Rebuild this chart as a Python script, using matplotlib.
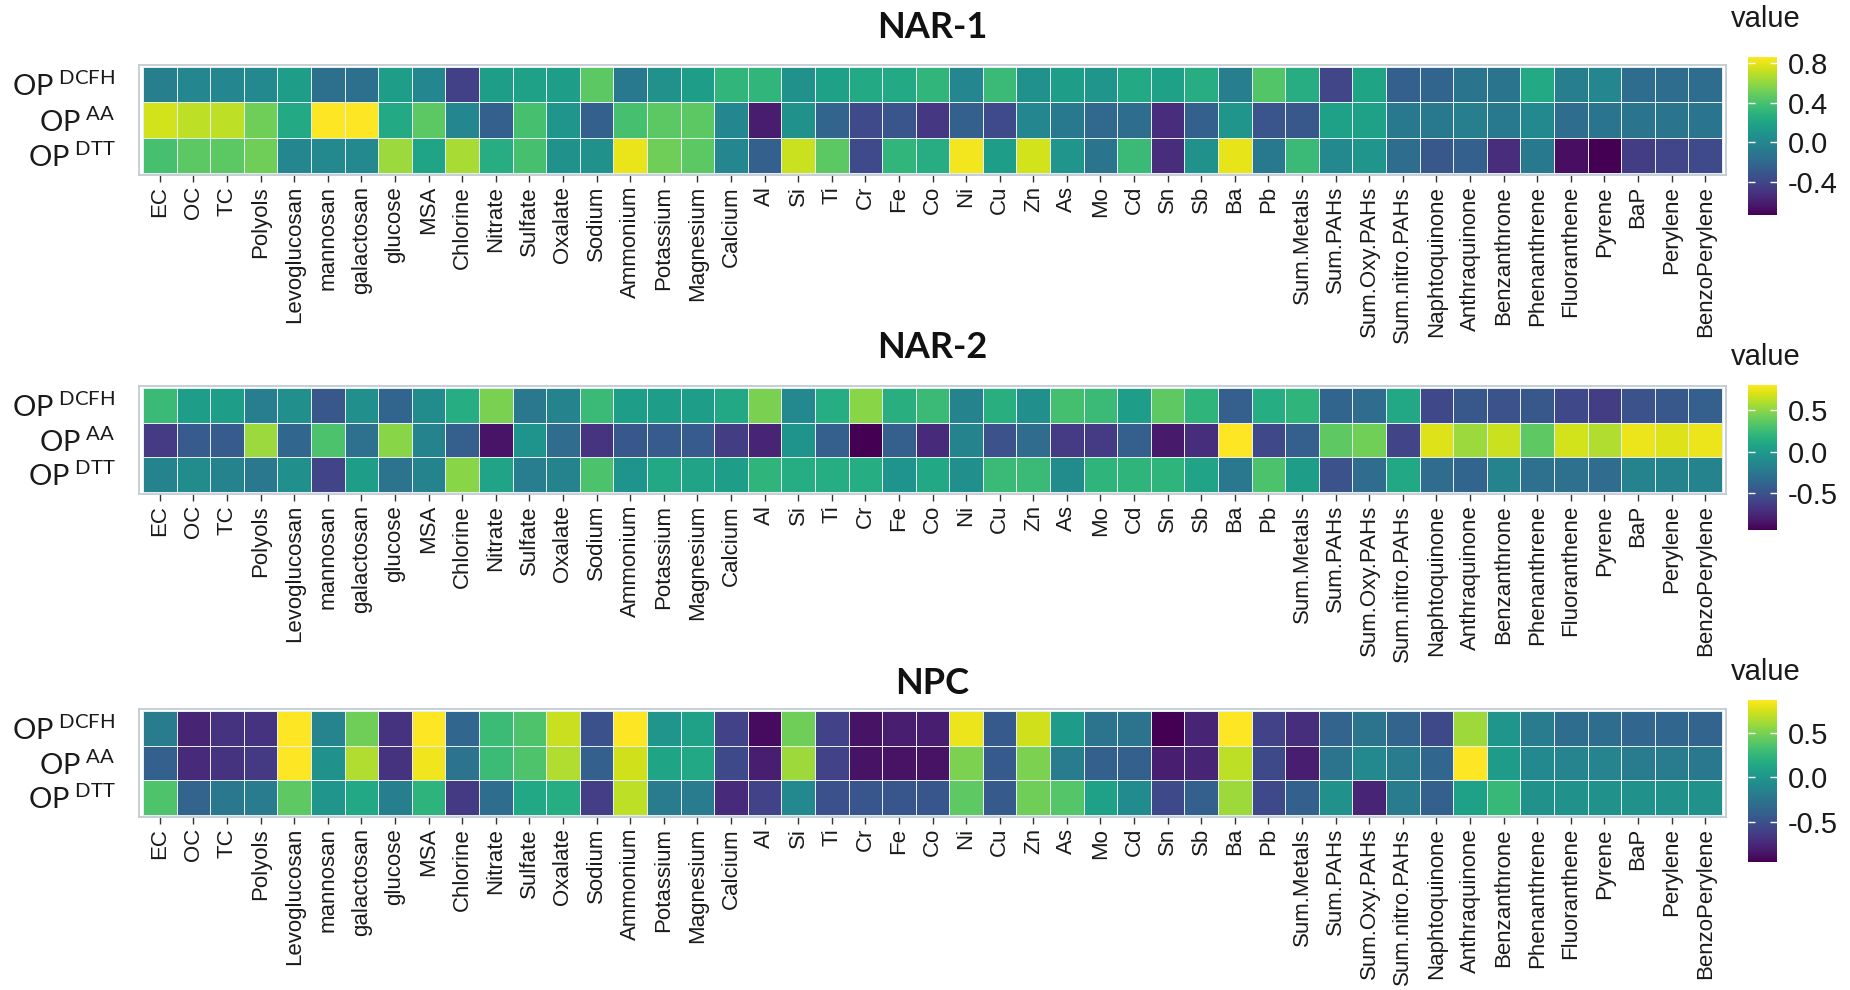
import numpy as np
import matplotlib
matplotlib.use("Agg")
import matplotlib.pyplot as plt

categories = ["EC", "OC", "TC", "Polyols", "Levoglucosan", "mannosan", "galactosan", "glucose", "MSA",
              "Chlorine", "Nitrate", "Sulfate", "Oxalate", "Sodium", "Ammonium", "Potassium", "Magnesium",
              "Calcium", "Al", "Si", "Ti", "Cr", "Fe", "Co", "Ni", "Cu", "Zn", "As", "Mo", "Cd", "Sn", "Sb",
              "Ba", "Pb", "Sum.Metals", "Sum.PAHs", "Sum.Oxy.PAHs", "Sum.nitro.PAHs", "Naphtoquinone",
              "Anthraquinone", "Benzanthrone", "Phenanthrene", "Fluoranthene", "Pyrene", "BaP", "Perylene",
              "BenzoPerylene"]
row_names = ["DCFH", "AA", "DTT"]
panel_titles = ["NAR-1", "NAR-2", "NPC"]

# ---- NAR-1 ----
nar1_dcfh = [-0.05, 0.0, 0.0, 0.02, 0.15, -0.15, -0.15, 0.15, 0.0, -0.43, 0.15, 0.18, 0.15, 0.46, -0.09,
             0.07, 0.15, 0.31, 0.31, 0.07, 0.18, 0.23, 0.23, 0.31, 0.0, 0.35, 0.07, 0.15, 0.10, 0.23, 0.18,
             0.26, -0.05, 0.43, 0.26, -0.40, 0.20, -0.25, -0.22, -0.12, -0.12, 0.23, -0.05, 0.0, -0.17,
             -0.17, -0.17]
nar1_aa = [0.75, 0.70, 0.70, 0.51, 0.23, 0.86, 0.86, 0.23, 0.46, 0.0, -0.25, 0.39, 0.10, -0.25, 0.39,
           0.46, 0.46, 0.0, -0.60, 0.07, -0.22, -0.37, -0.32, -0.48, -0.25, -0.37, 0.0, -0.09, -0.20,
           -0.17, -0.53, -0.25, 0.10, -0.32, -0.30, 0.18, 0.18, -0.09, -0.09, -0.05, -0.09, 0.02, -0.17,
           -0.12, -0.12, -0.12, -0.12]
nar1_dtt = [0.39, 0.46, 0.46, 0.51, 0.0, 0.02, 0.02, 0.62, 0.20, 0.65, 0.26, 0.39, 0.07, 0.07, 0.81,
            0.51, 0.46, 0.0, -0.25, 0.73, 0.46, -0.37, 0.31, 0.26, 0.83, 0.15, 0.75, 0.10, -0.12, 0.35,
            -0.53, 0.07, 0.80, -0.09, 0.35, 0.02, 0.10, -0.17, -0.30, -0.25, -0.53, -0.09, -0.67, -0.73,
            -0.45, -0.40, -0.37]

# ---- NAR-2 ----
nar2_dcfh = [0.24, 0.02, 0.02, -0.21, -0.07, -0.47, -0.07, -0.38, -0.10, 0.14, 0.45, -0.24, -0.16, 0.24,
             0.02, 0.02, 0.02, 0.10, 0.45, -0.12, 0.14, 0.49, 0.16, 0.24, -0.16, 0.16, -0.07, 0.28, 0.24,
             0.02, 0.37, 0.19, -0.42, 0.14, 0.19, -0.38, -0.33, 0.10, -0.56, -0.47, -0.50, -0.47, -0.56,
             -0.63, -0.50, -0.47, -0.42]
nar2_aa = [-0.64, -0.45, -0.45, 0.54, -0.37, 0.31, -0.30, 0.49, -0.16, -0.42, -0.85, -0.04, -0.33, -0.68,
           -0.47, -0.45, -0.45, -0.63, -0.77, -0.04, -0.42, -0.94, -0.42, -0.73, -0.16, -0.50, -0.33,
           -0.64, -0.64, -0.42, -0.82, -0.71, 0.80, -0.56, -0.42, 0.37, 0.42, -0.59, 0.71, 0.54, 0.66,
           0.37, 0.68, 0.59, 0.75, 0.71, 0.75]
nar2_dtt = [-0.16, -0.10, -0.16, -0.24, -0.07, -0.59, 0.02, -0.28, -0.16, 0.49, 0.07, -0.21, -0.16, 0.31,
            -0.04, 0.10, 0.07, 0.02, 0.19, 0.14, 0.14, 0.14, -0.04, 0.10, -0.07, 0.24, 0.24, -0.10, 0.19,
            0.19, 0.19, 0.07, -0.24, 0.31, 0.02, -0.50, -0.33, 0.10, -0.33, -0.38, -0.16, -0.30, -0.30,
            -0.33, -0.16, -0.16, -0.16]

# ---- NPC ----
npc_dcfh = [-0.19, -0.77, -0.68, -0.68, 0.87, -0.13, 0.47, -0.68, 0.87, -0.35, 0.29, 0.36, 0.72, -0.50,
            0.87, 0.0, 0.09, -0.59, -0.90, 0.47, -0.59, -0.86, -0.80, -0.80, 0.82, -0.44, 0.74, 0.05,
            -0.26, -0.26, -0.95, -0.77, 0.87, -0.59, -0.71, -0.37, -0.26, -0.37, -0.55, 0.60, 0.0, -0.19,
            -0.31, -0.31, -0.35, -0.35, -0.37]
npc_aa = [-0.40, -0.73, -0.68, -0.64, 0.87, -0.04, 0.65, -0.68, 0.83, -0.26, 0.29, 0.36, 0.65, -0.40,
          0.74, 0.11, 0.14, -0.55, -0.80, 0.60, -0.59, -0.86, -0.86, -0.86, 0.51, -0.44, 0.51, -0.19,
          -0.40, -0.40, -0.80, -0.77, 0.69, -0.55, -0.80, -0.26, -0.09, -0.19, -0.35, 0.87, 0.05, -0.09,
          -0.13, -0.13, -0.19, -0.19, -0.22]
npc_dtt = [0.36, -0.37, -0.22, -0.19, 0.42, 0.0, 0.14, -0.17, 0.23, -0.64, -0.31, 0.14, 0.18, -0.62,
           0.69, -0.19, -0.19, -0.73, -0.59, -0.09, -0.50, -0.46, -0.46, -0.46, 0.42, -0.44, 0.47, 0.38,
           0.09, -0.08, -0.55, -0.40, 0.60, -0.55, -0.40, -0.04, -0.77, -0.19, -0.40, 0.09, 0.27, -0.04,
           -0.04, -0.04, -0.04, -0.04, -0.04]

cbar_ticks = [[-0.4, 0.0, 0.4, 0.8], [-0.5, 0.0, 0.5], [-0.5, 0.0, 0.5]]

panels = [
    np.array([nar1_dcfh, nar1_aa, nar1_dtt]),
    np.array([nar2_dcfh, nar2_aa, nar2_dtt]),
    np.array([npc_dcfh, npc_aa, npc_dtt]),
]
for p in panels:
    assert p.shape == (3, len(categories)), p.shape

plt.rcParams["mathtext.fontset"] = "custom"
plt.rcParams["mathtext.rm"] = "Lato"
plt.rcParams["mathtext.it"] = "Lato"

W, H = 1850, 990
fig = plt.figure(figsize=(W / 100, H / 100), dpi=100)
fig.patch.set_facecolor("white")

def fx(px):
    return px / W

def fy(py):
    return 1 - py / H

layout = [
    dict(top=65, bot=175, cb_top=57, cb_bot=215, title_y=27, val_y=19),
    dict(top=386, bot=494, cb_top=385, cb_bot=530, title_y=348, val_y=357),
    dict(top=709, bot=817, cb_top=700, cb_bot=862, title_y=684, val_y=672),
]
hm_left, hm_right = 139, 1726
cb_left, cb_right = 1748, 1777

for k, (data, lay) in enumerate(zip(panels, layout)):
    ax = fig.add_axes([fx(hm_left), fy(lay["bot"]), fx(hm_right - hm_left), (lay["bot"] - lay["top"]) / H])
    vmin, vmax = data.min(), data.max()
    ncol = data.shape[1]
    mesh = ax.pcolormesh(np.arange(ncol + 1), np.arange(4), data, cmap="viridis", vmin=vmin, vmax=vmax,
                         edgecolors="#e6edf1", linewidth=0.6)
    ax.set_xlim(-0.12, ncol + 0.12)
    ax.set_ylim(3.06, -0.06)
    for s in ax.spines.values():
        s.set_color("#c2ccd3")
        s.set_linewidth(1.3)
    ax.set_xticks(np.arange(ncol) + 0.5)
    ax.set_xticklabels(categories, rotation=90, fontsize=16, family="Liberation Sans", color="#1a1a1a")
    ax.tick_params(axis="x", length=5, width=1, color="#333333", pad=3)
    ax.set_yticks(np.arange(3) + 0.5)
    ax.set_yticklabels([r"$\mathrm{OP}^{\ \mathrm{%s}}$" % r for r in row_names], fontsize=21,
                       color="#1a1a1a")
    ax.tick_params(axis="y", length=0, pad=17)

    fig.text(fx((hm_left + hm_right) / 2), fy(lay["title_y"]), panel_titles[k], ha="center", va="center",
             fontsize=26, fontweight="bold", family="Lato", color="#111111")

    cax = fig.add_axes([fx(cb_left), fy(lay["cb_bot"]), fx(cb_right - cb_left),
                        (lay["cb_bot"] - lay["cb_top"]) / H])
    cb = fig.colorbar(mesh, cax=cax)
    cb.outline.set_visible(False)
    cb.set_ticks(cbar_ticks[k])
    cb.set_ticklabels(["%.1f" % t for t in cbar_ticks[k]])
    cax.tick_params(axis="y", direction="in", length=5, width=1, color="white", left=True, right=True,
                    labelsize=21, pad=8)
    for lbl in cax.get_yticklabels():
        lbl.set_family("Liberation Sans")
        lbl.set_color("#1a1a1a")
    fig.text(fx(1766), fy(lay["val_y"]), "value", ha="center", va="center", fontsize=21,
             family="Liberation Sans", color="#1a1a1a")

fig.savefig("out.png", dpi=100, facecolor="white")
